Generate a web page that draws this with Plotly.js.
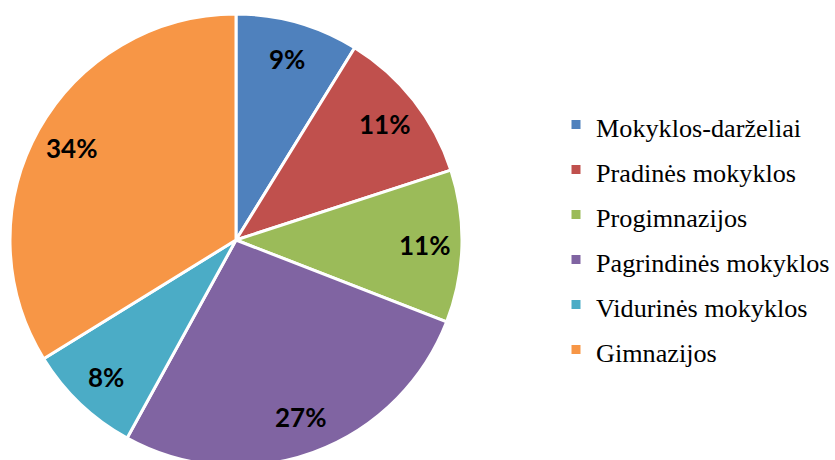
<!DOCTYPE html>
<html><head><meta charset="utf-8">
<script src="https://cdn.plot.ly/plotly-3.0.1.min.js"></script>
<style>html,body{margin:0;padding:0;overflow:hidden;background:#fff}</style>
</head><body><div id="chart" style="width:835px;height:480px"></div>
<script>
const categories = ["Mokyklos-darželiai", "Pradinės mokyklos", "Progimnazijos", "Pagrindinės mokyklos", "Vidurinės mokyklos", "Gimnazijos"];
const values = [8.8, 11.2, 10.9, 27.1, 8.2, 33.8];
const colors = ["#4F81BD", "#C0504D", "#9BBB59", "#8064A2", "#4BACC6", "#F79646"];

const W = 835, H = 480, MT = 14, MB = 14;
const plotH = H - MT - MB;
const cx = 236, R = 227;
const cy = MT + plotH / 2;
const total = values.reduce((a, b) => a + b, 0);

const annotations = [];
let cum = 0;
values.forEach((v, i) => {
  const mid = (cum + v / 2) / total * 2 * Math.PI;
  cum += v;
  const r = R * 0.83;
  const px = cx + r * Math.sin(mid);
  const py = cy - r * Math.cos(mid);
  annotations.push({
    xref: 'paper', yref: 'paper',
    x: px / W, y: 1 - (py - MT) / plotH,
    xanchor: 'center', yanchor: 'middle',
    text: Math.round(v / total * 100) + '%',
    showarrow: false,
    font: {family: 'Lato, "Liberation Sans", sans-serif', size: 26, color: '#000', weight: 'bold'}
  });
});

const trace = {
  type: 'pie',
  labels: categories.map(c => '<span style="font-size:26.2px">' + c + '</span>'),
  values: values,
  sort: false,
  direction: 'clockwise',
  rotation: 0,
  textinfo: 'none',
  hoverinfo: 'none',
  marker: {colors: colors, line: {color: '#FFFFFF', width: 3}},
  domain: {x: [(cx - R) / W, (cx + R) / W], y: [0, 1]}
};

const layout = {
  width: W, height: H,
  margin: {l: 0, r: 0, t: MT, b: MB, pad: 0, autoexpand: false},
  paper_bgcolor: '#FFFFFF',
  showlegend: true,
  legend: {
    x: 556 / W, xanchor: 'left',
    y: 1 - (237 - MT) / plotH, yanchor: 'middle',
    font: {family: '"Liberation Serif", "Times New Roman", serif', size: 32.3, color: '#000'},
    bgcolor: 'rgba(0,0,0,0)'
  },
  annotations: annotations
};

Plotly.newPlot('chart', [trace], layout, {displayModeBar: false, staticPlot: true});
</script></body></html>
